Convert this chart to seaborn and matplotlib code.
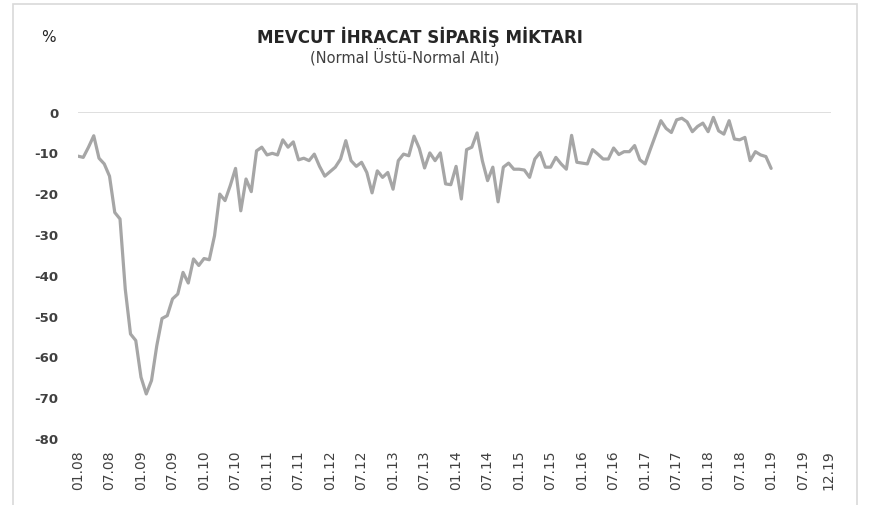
import pandas as pd
import numpy as np
import matplotlib
matplotlib.use("Agg")
import matplotlib.pyplot as plt
import seaborn as sns
from matplotlib.patches import Rectangle

# Monthly values, 01.2008 - 01.2019
values = [
    -10.9, -11.2, -8.7, -5.9, -11.4, -12.8, -15.8, -24.7, -26.3, -43.5, -54.5, -56.1,
    -65.1, -69.2, -65.9, -57.4, -50.7, -50.0, -45.9, -44.7, -39.4, -42.0, -36.1, -37.7,
    -36.0, -36.3, -30.4, -20.2, -21.8, -18.1, -13.9, -24.3, -16.5, -19.6, -9.6, -8.7,
    -10.6, -10.2, -10.6, -6.9, -8.7, -7.4, -11.8, -11.4, -12.0, -10.4, -13.4, -15.8,
    -14.7, -13.6, -11.6, -7.1, -12.0, -13.4, -12.4, -14.9, -19.9, -14.5, -16.1, -14.9,
    -19.0, -12.0, -10.4, -10.8, -6.0, -9.0, -13.8, -10.1, -12.0, -10.1, -17.7, -17.9,
    -13.4, -21.4, -9.3, -8.7, -5.2, -12.0, -16.9, -13.6, -22.1, -13.6, -12.6, -14.1,
    -14.1, -14.3, -16.1, -11.6, -10.0, -13.6, -13.6, -11.2, -12.8, -14.1, -5.8, -12.4,
    -12.6, -12.8, -9.3, -10.4, -11.6, -11.6, -8.9, -10.5, -9.8, -9.8, -8.3, -11.8,
    -12.8, -9.2, -5.7, -2.2, -4.1, -5.1, -2.0, -1.6, -2.5, -4.9, -3.6, -2.8,
    -4.9, -1.4, -4.7, -5.5, -2.2, -6.7, -6.9, -6.3, -12.0, -9.8, -10.6, -11.0,
    -13.9,
]

# full category axis 01.08 - 12.19
months = pd.date_range("2008-01-01", "2019-12-01", freq="MS")
tick_labels = [d.strftime("%m.%y") for d in months]
tick_pos = list(range(0, len(months), 6)) + [len(months) - 1]

df = pd.DataFrame({"idx": range(len(values)), "value": values})

sns.set_theme(style="white")
plt.rcParams["font.family"] = ["DejaVu Sans"]

fig = plt.figure(figsize=(8.73, 5.06), dpi=100)
ax = fig.add_axes([78 / 873, 1 - 439 / 506, (831 - 78) / 873, (439 - 112.7) / 506])

sns.lineplot(data=df, x="idx", y="value", ax=ax, color="#A6A6A6", linewidth=2.3)
ax.axhline(0, color="#D9D9D9", linewidth=1.2, zorder=0)

ax.set_xlim(0, 143.4)
ax.set_ylim(-80, 0)
ax.set_xticks(tick_pos)
ax.set_xticklabels([tick_labels[i] for i in tick_pos], rotation=90,
                   fontsize=10, color="#404040")
ax.set_yticks(range(-80, 1, 10))
ax.set_yticklabels([str(v) for v in range(-80, 1, 10)], fontsize=9.5,
                   fontweight="bold", color="#404040")
ax.tick_params(axis="x", length=0, pad=8)
ax.tick_params(axis="y", length=0, pad=14)
ax.set_xlabel("")
ax.set_ylabel("")
for s in ax.spines.values():
    s.set_visible(False)

fig.text(419.5 / 873, 1 - 37 / 506, "MEVCUT İHRACAT SİPARİŞ MİKTARI", ha="center",
         va="center", fontsize=12, fontweight="bold", color="#262626")
fig.text(404.5 / 873, 1 - 57 / 506, "(Normal Üstü-Normal Altı)", ha="center",
         va="center", fontsize=10.5, color="#404040")
fig.text(48 / 873, 1 - 37 / 506, "%", ha="center", va="center", fontsize=11,
         color="#262626")

# chart frame
fig.patches.append(Rectangle((13 / 873, -0.05), (857 - 13) / 873, 1.05 - 5 / 506,
                             transform=fig.transFigure, fill=False,
                             edgecolor="#D9D9D9", linewidth=1.2))

fig.savefig("out.png", dpi=100, facecolor="white")
